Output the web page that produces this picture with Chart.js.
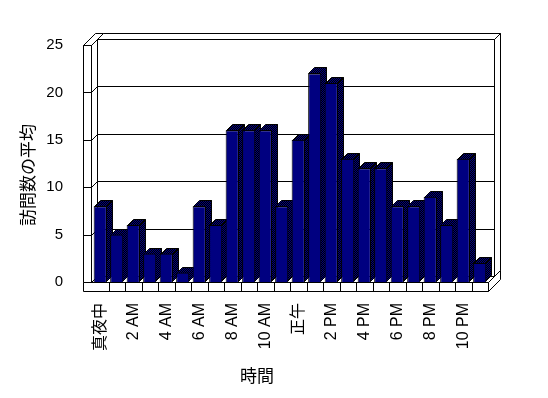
<!DOCTYPE html>
<html>
<head>
<meta charset="utf-8">
<script src="https://cdn.jsdelivr.net/npm/chart.js@4/dist/chart.umd.min.js"></script>
<style>
  body { margin: 0; background: #fff; }
  #wrap { width: 548px; height: 398px; }
</style>
</head>
<body>
<div id="wrap"><canvas id="visits"></canvas></div>
<script>
// 時間帯ごとの平均訪問数
const hours = ['真夜中', '1 AM', '2 AM', '3 AM', '4 AM', '5 AM', '6 AM', '7 AM', '8 AM', '9 AM', '10 AM', '11 AM',
               '正午', '1 PM', '2 PM', '3 PM', '4 PM', '5 PM', '6 PM', '7 PM', '8 PM', '9 PM', '10 PM', '11 PM'];
const avgVisits = [8, 5, 6, 3, 3, 1, 8, 6, 16, 16, 16, 8, 15, 22, 21, 13, 12, 12, 8, 8, 9, 6, 13, 2];
const yTicks = [0, 5, 10, 15, 20, 25];
const xTitle = '時間';
const yTitle = '訪問数の平均';

const NAVY = '#000080';
const DX = 6, DY = -6;   // 奥行き
const CJK = "'Noto Sans CJK JP', sans-serif";

// 側面・上面用の網掛け
function ditherPattern(ctx) {
    const c = document.createElement('canvas');
    c.width = 2; c.height = 2;
    const p = c.getContext('2d');
    p.fillStyle = '#000000'; p.fillRect(0, 0, 2, 2);
    p.fillStyle = NAVY; p.fillRect(0, 0, 1, 1); p.fillRect(1, 1, 1, 1);
    return ctx.createPattern(c, 'repeat');
}

function poly(ctx, pts, fill) {
    ctx.beginPath();
    ctx.moveTo(pts[0][0], pts[0][1]);
    for (let i = 1; i < pts.length; i++) ctx.lineTo(pts[i][0], pts[i][1]);
    ctx.closePath();
    ctx.fillStyle = fill;
    ctx.fill();
    ctx.stroke();
}

const box3d = {
    id: 'box3d',
    beforeDatasetsDraw(chart) {
        const { ctx, chartArea: a, scales: { x, y } } = chart;
        const L = a.left, R = a.right + 0.5, T = a.top + 0.5, B = a.bottom + 0.5;
        const lw0 = L - 8.5, lw1 = L - 0.5, fb = B + 9;
        ctx.save();
        ctx.strokeStyle = '#000';
        ctx.lineWidth = 1;

        // 奥の壁
        poly(ctx, [[lw1 + DX, T + DY], [lw1 + 2 * DX, T + 2 * DY], [R + 2 * DX, T + 2 * DY], [R + DX, T + DY]], '#fff');
        poly(ctx, [[R + DX, T + DY], [R + 2 * DX, T + 2 * DY], [R + 2 * DX, B + 2 * DY], [R + DX, B + DY]], '#fff');
        poly(ctx, [[lw1 + DX, T + DY], [R + DX, T + DY], [R + DX, B + DY], [lw1 + DX, B + DY]], '#fff');

        // 左の壁
        poly(ctx, [[lw0, T], [lw0 + 2 * DX, T + 2 * DY], [lw1 + 2 * DX, T + 2 * DY], [lw1, T]], '#fff');
        poly(ctx, [[lw1, T], [lw1 + DX, T + DY], [lw1 + DX, B + DY], [lw1, B]], '#fff');
        poly(ctx, [[lw0, T], [lw1, T], [lw1, B], [lw0, B]], '#fff');

        // 目盛線
        yTicks.forEach(v => {
            const yy = Math.round(y.getPixelForValue(v)) + 0.5;
            ctx.beginPath();
            ctx.moveTo(lw0, yy);
            ctx.lineTo(lw1, yy);
            ctx.lineTo(lw1 + DX, yy + DY);
            ctx.lineTo(R + DX, yy + DY);
            ctx.stroke();
        });

        // 床
        poly(ctx, [[lw1, B], [R, B], [R + DX, B + DY], [lw1 + DX, B + DY]], '#fff');
        poly(ctx, [[R, B], [R + 2 * DX, B + 2 * DY], [R + 2 * DX, fb + 2 * DY], [R, fb]], '#fff');
        poly(ctx, [[lw0, B], [R, B], [R, fb], [lw0, fb]], '#fff');
        ctx.beginPath();
        for (let i = 1; i < hours.length; i++) {
            const bx = Math.round((x.getPixelForTick(i - 1) + x.getPixelForTick(i)) / 2) + 0.5;
            ctx.moveTo(bx, B);
            ctx.lineTo(bx, fb);
        }
        ctx.stroke();

        // 棒の側面と上面
        const pat = ditherPattern(ctx);
        chart.getDatasetMeta(0).data.forEach(bar => {
            const { x: cx, y: top, base, width } = bar.getProps(['x', 'y', 'base', 'width'], true);
            const x1 = Math.round(cx - width / 2), x2 = Math.round(cx + width / 2) - 0.5;
            const t = Math.round(top) + 0.5, b = Math.round(base) - 0.5;
            poly(ctx, [[x2, t], [x2 + DX, t + DY], [x2 + DX, b + DY], [x2, b]], pat);
            poly(ctx, [[x1 + 0.5, t], [x1 + 0.5 + DX, t + DY], [x2 + DX, t + DY], [x2, t]], pat);
        });
        ctx.restore();
    },
    // 軸タイトル
    afterDraw(chart) {
        const ctx = chart.ctx;
        ctx.save();
        ctx.fillStyle = '#000';
        ctx.textAlign = 'center';
        ctx.textBaseline = 'middle';
        ctx.font = '17px ' + CJK;
        ctx.fillText(xTitle, 257, 376);
        ctx.translate(28, 175);
        ctx.rotate(-Math.PI / 2);
        ctx.fillText(yTitle, 0, 0);
        ctx.restore();
    }
};

new Chart(document.getElementById('visits'), {
    type: 'bar',
    data: {
        labels: hours,
        datasets: [{
            data: avgVisits,
            backgroundColor: NAVY,
            borderColor: '#000',
            borderWidth: 1,
            barPercentage: 0.8,
            categoryPercentage: 1.0,
        }]
    },
    options: {
        responsive: true,
        maintainAspectRatio: false,
        animation: false,
        layout: { padding: { top: 45, right: 60, bottom: 0, left: 0 } },
        plugins: {
            legend: { display: false },
            tooltip: { enabled: false },
        },
        scales: {
            x: {
                grid: { display: false, drawTicks: false },
                border: { display: false },
                afterFit: s => { s.height = 116; },
                ticks: {
                    autoSkip: false,
                    minRotation: 90,
                    maxRotation: 90,
                    padding: 21,
                    color: '#000',
                    font: { size: 16, family: "'Liberation Sans', 'Noto Sans CJK JP', sans-serif" },
                    callback: function (val, i) {
                        return i % 2 === 0 ? this.getLabelForValue(val) : '';
                    }
                }
            },
            y: {
                min: 0,
                max: 25,
                grid: { display: false, drawTicks: false },
                border: { display: false },
                afterFit: s => { s.width = 92; },
                ticks: {
                    stepSize: 5,
                    padding: 29,
                    color: '#000',
                    font: { size: 15, family: "'Liberation Sans', sans-serif" }
                }
            }
        }
    },
    plugins: [box3d]
});
</script>
</body>
</html>
